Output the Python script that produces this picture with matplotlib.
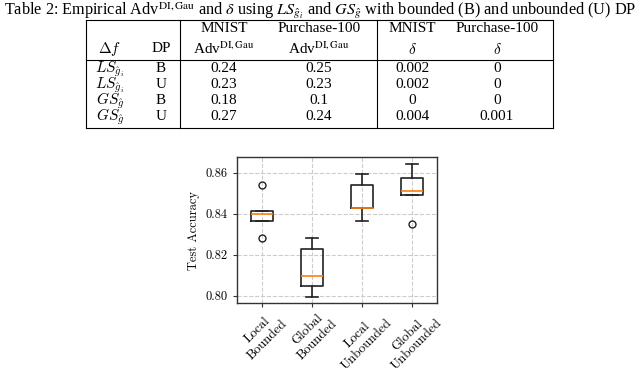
import matplotlib
matplotlib.use("Agg")
import matplotlib.pyplot as plt
from matplotlib.lines import Line2D

# ---------------- data ----------------
table_title = (r"Table 2: Empirical Adv$^{\rm DI,Gau}$ and $\delta$ using "
               r"$LS_{\hat{g}_i}$ and $GS_{\hat{g}}$ with bounded (B) and unbounded (U) DP")
header_top = ["", "", "MNIST", "Purchase-100", "MNIST", "Purchase-100"]
header_bottom = [r"$\Delta f$", "DP", r"Adv$^{\rm DI,Gau}$", r"Adv$^{\rm DI,Gau}$",
                 r"$\delta$", r"$\delta$"]
row_sens = [r"$LS_{\hat{g}_i}$", r"$LS_{\hat{g}_i}$", r"$GS_{\hat{g}}$", r"$GS_{\hat{g}}$"]
row_dp = ["B", "U", "B", "U"]
mnist_adv = ["0.24", "0.23", "0.18", "0.27"]
purchase_adv = ["0.25", "0.23", "0.1", "0.24"]
mnist_delta = ["0.002", "0.002", "0", "0.004"]
purchase_delta = ["0", "0", "0", "0.001"]

categories = ["Local\nBounded", "Global\nBounded", "Local\nUnbounded", "Global\nUnbounded"]
q1 = [0.8366, 0.8049, 0.8426, 0.8493]
median = [0.8399, 0.8099, 0.8430, 0.8512]
q3 = [0.8415, 0.8227, 0.8542, 0.8576]
whislo = [0.8366, 0.7997, 0.8365, 0.8493]
whishi = [0.8415, 0.8284, 0.8594, 0.8642]
fliers = [[0.8540, 0.8284], [], [], [0.8352]]
yticks = [0.80, 0.82, 0.84, 0.86]

# ---------------- figure ----------------
W, H = 640, 370
fig = plt.figure(figsize=(W / 100, H / 100), dpi=100)

def fx(x):
    return x / W

def fy(y):
    return 1 - y / H

def tfont(t):
    mf = "stix" if "Adv" in t else "cm"
    return dict(family="Liberation Serif", math_fontfamily=mf, color="black")

fs = 11

fig.text(fx(320), fy(11), table_title, ha="center", va="center", fontsize=11.7,
         family="Liberation Serif", math_fontfamily="stix")

col_x = [110, 161, 224, 319, 412, 497]
for x, t in zip(col_x, header_top):
    if t:
        fig.text(fx(x), fy(28), t, ha="center", va="center", fontsize=fs, **tfont(t))
for x, t in zip(col_x, header_bottom):
    fig.text(fx(x), fy(49), t, ha="center", va="center", fontsize=fs, **tfont(t))

row_y = [69, 85, 101, 117]
cols = [row_sens, row_dp, mnist_adv, purchase_adv, mnist_delta, purchase_delta]
for x, col in zip(col_x, cols):
    for y, t in zip(row_y, col):
        fig.text(fx(x), fy(y), t, ha="center", va="center", fontsize=fs, **tfont(t))

lw = 0.8
for y in [20, 60, 128]:
    fig.add_artist(Line2D([fx(86), fx(553)], [fy(y), fy(y)], color="black", lw=lw))
for x in [86, 180, 377, 553]:
    fig.add_artist(Line2D([fx(x), fx(x)], [fy(20), fy(128)], color="black", lw=lw))

# ---------------- boxplot ----------------
cfont = "cmr10"
ax = fig.add_axes([fx(237), fy(303.3), fx(200), (303.3 - 157.3) / H])
stats = []
for i in range(len(categories)):
    stats.append(dict(med=median[i], q1=q1[i], q3=q3[i], whislo=whislo[i],
                      whishi=whishi[i], fliers=fliers[i], label=categories[i]))
ax.bxp(stats, positions=range(1, len(categories) + 1), widths=0.45,
       boxprops=dict(color="#222222", lw=1.2),
       whiskerprops=dict(color="#222222", lw=1.2),
       capprops=dict(color="#222222", lw=1.2),
       medianprops=dict(color="#ff7f0e", lw=1.2),
       flierprops=dict(marker="o", markerfacecolor="none", markeredgecolor="#222222",
                       markersize=5, markeredgewidth=1.0))
ax.set_xlim(0.5, 4.5)
ax.set_ylim(0.7964, 0.8675)
ax.set_yticks(yticks)
ax.set_yticklabels([f"{v:.2f}" for v in yticks], fontfamily=cfont, fontsize=9)
ax.set_xticks(range(1, len(categories) + 1))
ax.set_xticklabels(categories, rotation=45, ha="center",
                   fontfamily=cfont, fontsize=9.5, multialignment="center")
ax.set_ylabel("Test Accuracy", fontfamily=cfont, fontsize=9)
ax.grid(True, linestyle="--", color="#cccccc", lw=0.8)
ax.set_axisbelow(True)
for s in ax.spines.values():
    s.set_color("#333333")
    s.set_linewidth(1.0)
ax.tick_params(length=3, color="#333333")
ax.tick_params(axis="x", pad=0)

fig.savefig("out.png", dpi=100)
